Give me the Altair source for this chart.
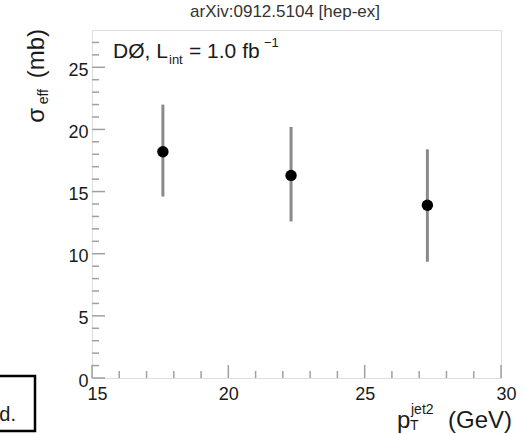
import altair as alt
import pandas as pd

# ---- data ----
pt_jet2 = [17.6, 22.3, 27.3]          # GeV
sigma_eff = [18.2, 16.3, 13.9]        # mb
err_low = [14.6, 12.6, 9.35]
err_high = [22.0, 20.2, 18.4]

x_major = [15, 20, 25, 30]
x_minor = [16, 17, 18, 19, 21, 22, 23, 24, 26, 27, 28, 29]
y_major = [0, 5, 10, 15, 20, 25]
y_minor = [1, 2, 3, 4, 6, 7, 8, 9, 11, 12, 13, 14, 16, 17, 18, 19,
           21, 22, 23, 24, 26, 27]

FONT = "Liberation Sans"
W, H = 409, 348
L, T = 92, 30

df = pd.DataFrame({"pt": pt_jet2, "sig": sigma_eff, "lo": err_low, "hi": err_high})

xs = alt.Scale(domain=[15, 30], nice=False, zero=False)
ys = alt.Scale(domain=[0, 28], nice=False, zero=True)

base = alt.Chart(df)

errors = base.mark_rule(color="#8a8a8a", strokeWidth=3).encode(
    x=alt.X("pt:Q", scale=xs,
            axis=alt.Axis(values=x_major, title=None, grid=False, domain=False,
                          ticks=False, tickSize=0, labelPadding=7, labelFlush=False,
                          labelOffset={"condition": {"test": "datum.value == 15 || datum.value == 30",
                                                     "value": 5}, "value": 0},
                          labelFont=FONT, labelFontSize=18, labelColor="#1a1a1a")),
    y=alt.Y("lo:Q", scale=ys,
            axis=alt.Axis(values=y_major, title=None, grid=False, domain=False,
                          ticks=False, tickSize=0, labelPadding=4, labelOffset=3,
                          labelFont=FONT, labelFontSize=18, labelColor="#1a1a1a")),
    y2="hi:Q",
)

points = base.mark_point(filled=True, shape="circle", size=130, color="black",
                         opacity=1).encode(x=alt.X("pt:Q", scale=xs), y=alt.Y("sig:Q", scale=ys))

tick_color = "#a0a0a0"
xmaj = alt.Chart(pd.DataFrame({"v": x_major})).mark_rule(color=tick_color, strokeWidth=1.5).encode(
    x=alt.X("v:Q", scale=xs), y=alt.value(H), y2=alt.value(H - 13))
xmin = alt.Chart(pd.DataFrame({"v": x_minor})).mark_rule(color=tick_color, strokeWidth=1.5).encode(
    x=alt.X("v:Q", scale=xs), y=alt.value(H), y2=alt.value(H - 7))
ymaj = alt.Chart(pd.DataFrame({"v": y_major})).mark_rule(color=tick_color, strokeWidth=1.5).encode(
    y=alt.Y("v:Q", scale=ys), x=alt.value(0), x2=alt.value(13))
ymin = alt.Chart(pd.DataFrame({"v": y_minor})).mark_rule(color=tick_color, strokeWidth=1.5).encode(
    y=alt.Y("v:Q", scale=ys), x=alt.value(0), x2=alt.value(7))


def label(txt, x, y, size, angle=0, align="left", color="#1a1a1a"):
    props = dict(align=align, baseline="alphabetic", fontSize=size, font=FONT, color=color)
    if angle:
        props["angle"] = angle
    return alt.Chart(pd.DataFrame({"t": [txt]})).mark_text(**props).encode(
        x=alt.value(x - L), y=alt.value(y - T), text="t:N")


texts = [
    label("arXiv:0912.5104 [hep-ex]", 285, 17, 17, align="center", color="#333333"),
    label("DØ, L", 113, 58, 21),
    label("int", 169, 64, 13),
    label("= 1.0 fb", 189, 58, 21),
    label("−1", 264, 47, 13),
    # y title (rotated)
    label("(mb)", 44, 29, 24, angle=270, align="right"),
    label("eff", 48, 89, 14, angle=270, align="right"),
    label("σ", 44, 108, 24, angle=270, align="right"),
    # x title
    label("p", 397, 428, 24),
    label("T", 410, 430, 14),
    label("jet2", 411, 414, 14),
    label("(GeV)", 512, 428, 24, align="right"),
    # clipped neighbour box text
    label("d.", 16, 421, 20, align="right"),
]

box = alt.Chart(pd.DataFrame({"t": [0]})).mark_rect(
    fill="white", stroke="black", strokeWidth=2.5).encode(
    x=alt.value(-8 - L), x2=alt.value(35 - L), y=alt.value(376 - T), y2=alt.value(431 - T))

chart = alt.layer(box, xmin, xmaj, ymin, ymaj, errors, points, *texts).properties(
    width=W, height=H,
    padding={"left": L, "top": T, "right": 524 - L - W, "bottom": 434 - T - H},
    autosize="none",
).configure_view(stroke="#b5b5b5", strokeWidth=2.5).configure(background="white")

chart.save("out.html", embed_options={"renderer": "svg", "actions": False})
